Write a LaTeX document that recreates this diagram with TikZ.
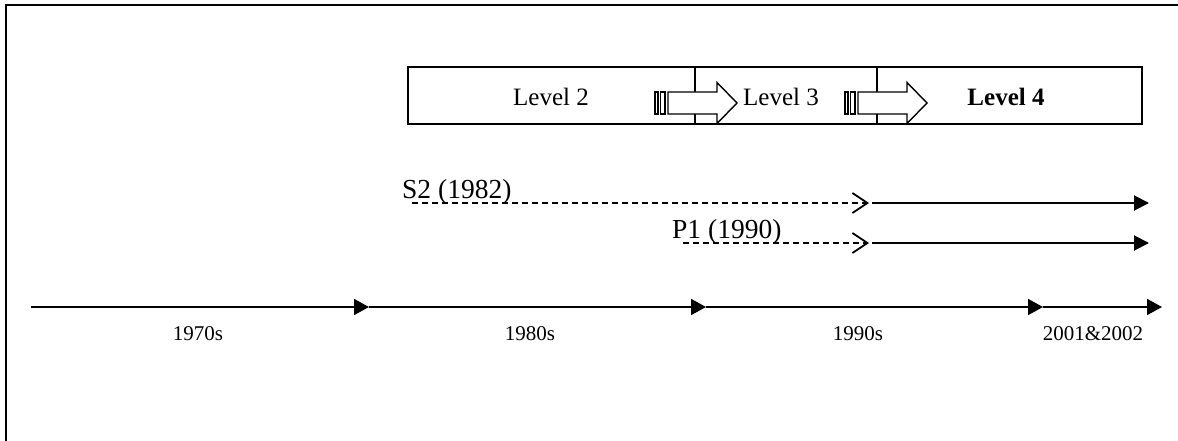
\documentclass[tikz,border=0pt]{standalone}
\usepackage{fontspec}
\setmainfont{Liberation Serif}
\usetikzlibrary{arrows.meta}
\begin{document}
\begin{tikzpicture}[x=1pt,y=-1pt,
  frame/.style={line width=1.8pt},
  boxline/.style={line width=1.5pt},
  tline/.style={line width=1.8pt,-{Triangle[length=15pt,width=16pt]}},
  solidarr/.style={line width=1.9pt,-{Triangle[length=15pt,width=15pt]}},
  dashedarr/.style={line width=1.8pt,dash pattern=on 6pt off 4pt,-{Straight Barb[length=15pt,width=20pt]}},
  lvl/.style={font=\fontsize{25}{28}\selectfont,anchor=base,inner sep=0pt},
  yr/.style={font=\fontsize{21}{24}\selectfont,anchor=base,inner sep=0pt},
  lab/.style={font=\fontsize{27.5}{30}\selectfont,anchor=base west,inner sep=0pt},
  striparrow/.pic={
    \draw[line width=1.4pt,fill=white] (0,-11) rectangle (3,11);
    \draw[line width=1.4pt,fill=white] (5.5,-11) rectangle (10,11);
    \draw[line width=1.4pt,fill=white] (13,-11) -- (62,-11) -- (62,-20.5) -- (82,0) -- (62,20.5) -- (62,11) -- (13,11) -- cycle;
  }]
\useasboundingbox (0,0) rectangle (1178,441);
% outer frame
\coordinate (f1) at (6,441);
\coordinate (f2) at (6,5);
\coordinate (f3) at (1178,5);
\draw[frame] (f1) -- (f2) -- (f3);
% level box
\coordinate (bx1) at (408,67);
\coordinate (bx2) at (1142,124);
\draw[boxline] (bx1) rectangle (bx2);
\coordinate (d1t) at (695,67);
\coordinate (d1b) at (695,124);
\coordinate (d2t) at (877,67);
\coordinate (d2b) at (877,124);
\draw[boxline] (d1t) -- (d1b);
\draw[boxline] (d2t) -- (d2b);
\node[lvl] (lv2) at (551,106) {Level 2};
\node[lvl] (lv3) at (781,106) {Level 3};
\node[lvl] (lv4) at (1006,106) {\textbf{Level 4}};
\pic at (655,103) {striparrow};
\pic at (845,103) {striparrow};
% S2 and P1
\node[lab] (s2) at (402,198) {S2 (1982)};
\node[lab] (p1) at (672,238) {P1 (1990)};
\coordinate (s2a) at (412,203);
\coordinate (s2b) at (869,203);
\coordinate (s2c) at (872,203);
\coordinate (s2d) at (1149,203);
\draw[dashedarr] (s2a) -- (s2b);
\draw[solidarr] (s2c) -- (s2d);
\coordinate (p1a) at (683,243);
\coordinate (p1b) at (869,243);
\coordinate (p1c) at (872,243);
\coordinate (p1d) at (1149,243);
\draw[dashedarr] (p1a) -- (p1b);
\draw[solidarr] (p1c) -- (p1d);
% timeline
\coordinate (t0) at (31,307);
\coordinate (t1) at (369,307);
\coordinate (t2) at (706,307);
\coordinate (t3) at (1043,307);
\coordinate (t4) at (1162,307);
\draw[tline] (t0) -- (t1);
\draw[tline] (t1) -- (t2);
\draw[tline] (t2) -- (t3);
\draw[tline] (t3) -- (t4);
\node[yr] (y70) at (198,340) {1970s};
\node[yr] (y80) at (530,340) {1980s};
\node[yr] (y90) at (858,340) {1990s};
\node[yr] (y01) at (1093,340) {2001\&2002};
\end{tikzpicture}
\end{document}
